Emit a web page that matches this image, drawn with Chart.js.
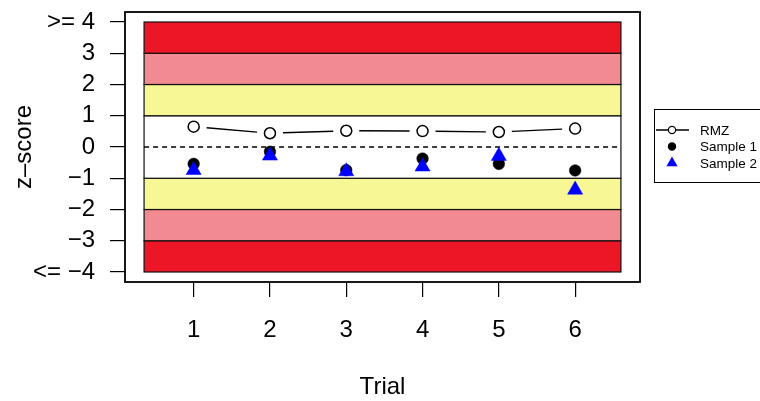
<!DOCTYPE html>
<html>
<head>
<meta charset="utf-8">
<script src="https://cdn.jsdelivr.net/npm/chart.js@4/dist/chart.umd.min.js"></script>
<style>
  html, body { margin: 0; padding: 0; background: #fff; }
  canvas { display: block; }
</style>
</head>
<body>
<canvas id="chart" width="760" height="401"></canvas>
<script>
// data
const trials = [1, 2, 3, 4, 5, 6];
const rmz = [0.65, 0.44, 0.52, 0.51, 0.48, 0.59];
const sample1 = [-0.54, -0.15, -0.74, -0.37, -0.54, -0.75];
const sample2 = [-0.74, -0.28, -0.78, -0.63, -0.29, -1.37];

const yTickValues = [-4, -3, -2, -1, 0, 1, 2, 3, 4];
const yTickLabels = ['<= \u22124', '\u22123', '\u22122', '\u22121', '0', '1', '2', '3', '>= 4'];

// z-score bands: [from, to, colour]
const bandFrom = [-4, -3, -2, -1, 1, 2, 3];
const bandTo = [-3, -2, -1, 1, 2, 3, 4];
const bandColors = ['#ED1627', '#F28B91', '#F7F796', '#FFFFFF', '#F7F796', '#F28B91', '#ED1627'];
const bandX = [0.35, 6.6];

const FONT = '"Liberation Sans", Arial, sans-serif';

const toPoints = (ys) => trials.map((t, i) => ({ x: t, y: ys[i] }));

// bands, zero line, gapped RMZ line (type = "b" look)
const backgroundPlugin = {
    id: 'zBands',
    beforeDatasetsDraw(chart) {
        const { ctx, scales: { x, y } } = chart;
        const x0 = x.getPixelForValue(bandX[0]);
        const x1 = x.getPixelForValue(bandX[1]);
        ctx.save();
        bandFrom.forEach((from, i) => {
            const yTop = y.getPixelForValue(bandTo[i]);
            const yBot = y.getPixelForValue(from);
            ctx.fillStyle = bandColors[i];
            ctx.fillRect(x0, yTop, x1 - x0, yBot - yTop);
            ctx.strokeStyle = '#111';
            ctx.lineWidth = 1.2;
            ctx.strokeRect(x0, yTop, x1 - x0, yBot - yTop);
        });

        // dashed zero line
        const y0 = y.getPixelForValue(0);
        ctx.setLineDash([5, 4]);
        ctx.lineWidth = 1.5;
        ctx.strokeStyle = '#000';
        ctx.beginPath();
        ctx.moveTo(x0, y0);
        ctx.lineTo(x1, y0);
        ctx.stroke();
        ctx.setLineDash([]);

        // gapped line for datasets flagged with gapLine
        chart.data.datasets.forEach((ds, di) => {
            if (!ds.gapLine) return;
            const pts = chart.getDatasetMeta(di).data;
            const gap = 13;
            ctx.strokeStyle = '#000';
            ctx.lineWidth = 1.4;
            for (let i = 0; i < pts.length - 1; i++) {
                const a = pts[i], b = pts[i + 1];
                const dx = b.x - a.x, dy = b.y - a.y;
                const len = Math.sqrt(dx * dx + dy * dy);
                if (len <= gap * 2) continue;
                const ux = dx / len, uy = dy / len;
                ctx.beginPath();
                ctx.moveTo(a.x + ux * gap, a.y + uy * gap);
                ctx.lineTo(b.x - ux * gap, b.y - uy * gap);
                ctx.stroke();
            }
        });
        ctx.restore();
    },
    afterDraw(chart) {
        const { ctx, chartArea: ca } = chart;
        ctx.save();
        // plot box
        ctx.strokeStyle = '#000';
        ctx.lineWidth = 1.8;
        ctx.strokeRect(ca.left, ca.top, ca.right - ca.left, ca.bottom - ca.top);

        // legend, partly cut off at the right edge like the original
        const lx = 654.5, ly = 109.5;
        ctx.lineWidth = 1;
        ctx.strokeRect(lx, ly, 200, 73);
        ctx.font = '13.5px ' + FONT;
        ctx.textBaseline = 'middle';
        ctx.textAlign = 'left';
        chart.data.datasets.forEach((ds, i) => {
            const cy = 130 + i * 16.5;
            const cx = 672;
            if (ds.gapLine) {
                ctx.strokeStyle = '#000';
                ctx.lineWidth = 1.4;
                ctx.beginPath();
                ctx.moveTo(656, cy);
                ctx.lineTo(689, cy);
                ctx.stroke();
            }
            ctx.beginPath();
            if (ds.pointStyle === 'triangle') {
                const r = 5.2;
                ctx.moveTo(cx, cy - r);
                ctx.lineTo(cx + r * 0.866, cy + r / 2);
                ctx.lineTo(cx - r * 0.866, cy + r / 2);
                ctx.closePath();
            } else {
                ctx.arc(cx, cy, 3.6, 0, Math.PI * 2);
            }
            ctx.fillStyle = ds.pointBackgroundColor;
            ctx.fill();
            ctx.strokeStyle = ds.pointBorderColor;
            ctx.lineWidth = 1.2;
            ctx.stroke();
            ctx.fillStyle = '#000';
            ctx.fillText(ds.label, 700, cy + 1);
        });
        ctx.restore();
    }
};

new Chart(document.getElementById('chart'), {
    type: 'scatter',
    data: {
        datasets: [
            {
                label: 'RMZ',
                data: toPoints(rmz),
                gapLine: true,
                showLine: false,
                pointStyle: 'circle',
                pointRadius: 5.5,
                pointBackgroundColor: '#FFFFFF',
                pointBorderColor: '#000000',
                pointBorderWidth: 1.5,
                order: 3
            },
            {
                label: 'Sample 1',
                data: toPoints(sample1),
                showLine: false,
                pointStyle: 'circle',
                pointRadius: 5.8,
                pointBackgroundColor: '#000000',
                pointBorderColor: '#000000',
                pointBorderWidth: 0.5,
                order: 2
            },
            {
                label: 'Sample 2',
                data: toPoints(sample2),
                showLine: false,
                pointStyle: 'triangle',
                pointRadius: 8.7,
                pointBackgroundColor: '#0000FF',
                pointBorderColor: '#0000FF',
                pointBorderWidth: 0.5,
                order: 1
            }
        ]
    },
    options: {
        responsive: false,
        devicePixelRatio: 1,
        animation: false,
        layout: { padding: { left: 0, top: 12, right: 120, bottom: 0 } },
        plugins: {
            legend: { display: false },
            tooltip: { enabled: false }
        },
        scales: {
            x: {
                type: 'linear',
                min: 0.1,
                max: 6.85,
                afterBuildTicks: (scale) => { scale.ticks = trials.map(v => ({ value: v })); },
                afterFit: (scale) => {
                    scale.height = 119;
                    scale.paddingLeft = 0;
                    scale.paddingRight = 0;
                },
                grid: { drawOnChartArea: false, drawTicks: true, tickLength: 15, color: '#000', lineWidth: 1.2 },
                border: { display: false },
                ticks: {
                    color: '#000',
                    font: { family: FONT, size: 24 },
                    padding: 19,
                    maxRotation: 0,
                    callback: (v) => String(v)
                },
                title: {
                    display: true,
                    text: 'Trial',
                    color: '#000',
                    font: { family: FONT, size: 24 },
                    padding: { top: 0, bottom: -1 }
                }
            },
            y: {
                type: 'linear',
                min: -4.32,
                max: 4.32,
                afterBuildTicks: (scale) => { scale.ticks = yTickValues.map(v => ({ value: v })); },
                afterFit: (scale) => {
                    scale.width = 125;
                    scale.paddingTop = 0;
                    scale.paddingBottom = 0;
                },
                grid: { drawOnChartArea: false, drawTicks: true, tickLength: 15, color: '#000', lineWidth: 1.2 },
                border: { display: false },
                ticks: {
                    color: '#000',
                    font: { family: FONT, size: 24 },
                    padding: 15,
                    callback: (v, i) => yTickLabels[i]
                },
                title: {
                    display: true,
                    text: 'z\u2013score',
                    color: '#000',
                    font: { family: FONT, size: 24 },
                    padding: { top: 9.5, bottom: 0 }
                }
            }
        }
    },
    plugins: [backgroundPlugin]
});
</script>
</body>
</html>
